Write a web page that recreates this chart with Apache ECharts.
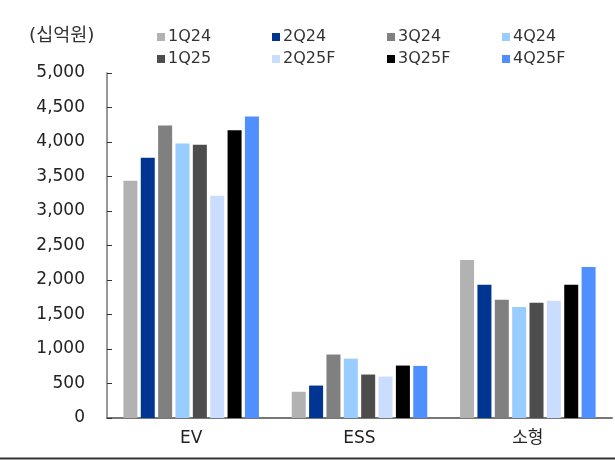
<!DOCTYPE html>
<html><head><meta charset="utf-8">
<script src="https://cdn.jsdelivr.net/npm/echarts@6/dist/echarts.min.js"></script>
<style>html,body{margin:0;padding:0;background:#fff}#c{width:615px;height:460px}</style>
</head><body><div id="c"></div>
<script>
const categories = ['EV', 'ESS', '소형'];
const seriesNames = ['1Q24', '2Q24', '3Q24', '4Q24', '1Q25', '2Q25F', '3Q25F', '4Q25F'];
const v1Q24 = [3440, 380, 2290];
const v2Q24 = [3770, 470, 1930];
const v3Q24 = [4240, 920, 1715];
const v4Q24 = [3980, 860, 1610];
const v1Q25 = [3960, 630, 1670];
const v2Q25F = [3220, 600, 1700];
const v3Q25F = [4170, 760, 1930];
const v4Q25F = [4370, 755, 2190];
const values = [v1Q24, v2Q24, v3Q24, v4Q24, v1Q25, v2Q25F, v3Q25F, v4Q25F];
const colors = ['#b2b2b2', '#003591', '#808080', '#99ccff', '#4d4d4d', '#cbddff', '#000000', '#4f8fff'];
const yTicks = [0, 500, 1000, 1500, 2000, 2500, 3000, 3500, 4000, 4500, 5000];
const unitLabel = '(십억원)';

const font = '"DejaVu Sans", "Noto Sans CJK KR", sans-serif';
const chart = echarts.init(document.getElementById('c'));
const legendX = [157, 272, 387, 502];
const legends = seriesNames.map((n, i) => ({
  data: [n], left: legendX[i % 4], top: i < 4 ? 29 : 51, padding: 0,
  itemWidth: 8, itemHeight: 8, icon: 'rect', itemGap: 0,
  textStyle: { fontFamily: font, fontSize: 16, color: '#333', padding: [0, 0, 0, -2] }
}));
chart.setOption({
  animation: false,
  color: colors,
  legend: legends,
  grid: { left: 107, right: 3, top: 73, bottom: 42, containLabel: false },
  graphic: [
    { type: 'text', left: 29, top: 27, style: { text: unitLabel, font: '18.5px ' + font, fill: '#333' } },
    { type: 'line', shape: { x1: 0, y1: 458.5, x2: 615, y2: 458.5 }, style: { stroke: '#333', lineWidth: 2 } }
  ],
  xAxis: {
    type: 'category', data: categories,
    axisLine: { lineStyle: { color: '#777', width: 2 } },
    axisTick: { inside: true, length: 5, lineStyle: { color: '#333' } },
    axisLabel: { fontFamily: font, fontSize: 17, color: '#222', margin: 12 }
  },
  yAxis: {
    type: 'value', min: 0, max: 5000, interval: 500,
    axisLine: { show: true, lineStyle: { color: '#777', width: 1.5 } },
    axisTick: { show: true, inside: true, length: 5, lineStyle: { color: '#333' } },
    splitLine: { show: false },
    axisLabel: { fontFamily: font, fontSize: 17, color: '#222', margin: 22,
      formatter: v => yTicks.includes(v) ? v.toLocaleString('en-US') : '' }
  },
  series: seriesNames.map((n, i) => ({
    name: n, type: 'bar', data: values[i], barWidth: 14, barGap: '24%'
  }))
});
</script></body></html>
